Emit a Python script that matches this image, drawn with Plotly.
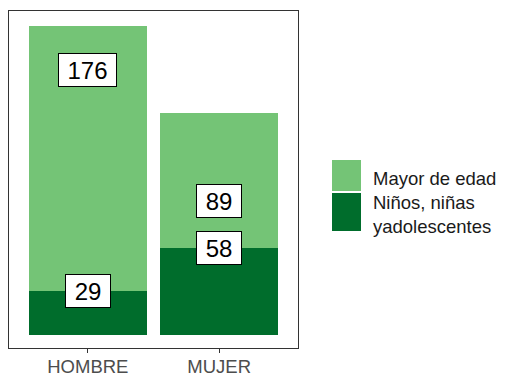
import plotly.graph_objects as go

# Data
categories = ["HOMBRE", "MUJER"]
series_names = ["Niños, niñas<br>yadolescentes", "Mayor de edad"]
minors = [29, 58]
adults = [176, 89]
colors = ["#006D2C", "#74C476"]

fig = go.Figure()
for name, vals, col in zip(series_names, [minors, adults], colors):
    fig.add_trace(go.Bar(
        x=categories, y=vals, name=name, marker=dict(color=col, line=dict(width=0)),
        width=0.9, hoverinfo="skip",
    ))

# value labels placed at each value on the y scale, in padded white boxes
for vals in [adults, minors]:
    for cat, v in zip(categories, vals):
        n = len(str(v))
        fig.add_annotation(
            x=cat, y=v, xref="x", yref="y", text=str(v), showarrow=False,
            font=dict(family="Liberation Sans, Arial", size=24, color="#000000"),
            bgcolor="#FFFFFF", bordercolor="#000000", borderwidth=1, borderpad=3,
            width=round(13.4 * n + 11), height=26,
        )

# legend drawn in paper space
leg_items = [(series_names[1], colors[1]), (series_names[0], colors[0])]
sw_x0, sw_x1 = 332, 361
rows = [(160, 191, 178), (193, 231, 214)]
W, H = 505, 377
for (label, col), (y0, y1, ty) in zip(leg_items, rows):
    fig.add_shape(type="rect", xref="paper", yref="paper",
                  x0=(sw_x0 - 9) / 289, x1=(sw_x1 - 9) / 289,
                  y0=(348 - y1) / 337, y1=(348 - y0) / 337,
                  fillcolor=col, line=dict(width=0))
    fig.add_annotation(xref="paper", yref="paper", x=(371 - 9) / 289, y=(348 - ty) / 337,
                       xanchor="left", yanchor="middle", align="left", showarrow=False,
                       text=label,
                       font=dict(family="Liberation Sans, Arial", size=18.5, color="#1A1A1A"))

fig.update_layout(
    width=W, height=H, barmode="stack", showlegend=False,
    margin=dict(l=9, r=207, t=11, b=29, autoexpand=False),
    paper_bgcolor="#FFFFFF", plot_bgcolor="#FFFFFF",
    xaxis=dict(range=[-0.6, 1.6], showgrid=False, showline=True, linecolor="#333333",
               linewidth=1.3, mirror=True, ticks="outside", ticklen=4, tickcolor="#333333",
               automargin=False, ticklabelstandoff=-2,
               tickfont=dict(family="Liberation Sans, Arial", size=18.5, color="#4D4D4D")),
    yaxis=dict(range=[-8.6, 215], showgrid=False, zeroline=False, showline=True,
               linecolor="#333333", linewidth=1.3, mirror="allticks", showticklabels=False,
               automargin=False, ticks="inside", ticklen=2, tickwidth=1.5, tickcolor="#FFFFFF",
               tickvals=[0, 25, 50, 75, 100, 125, 150, 175, 200]),
)

fig.write_html("out.html")
